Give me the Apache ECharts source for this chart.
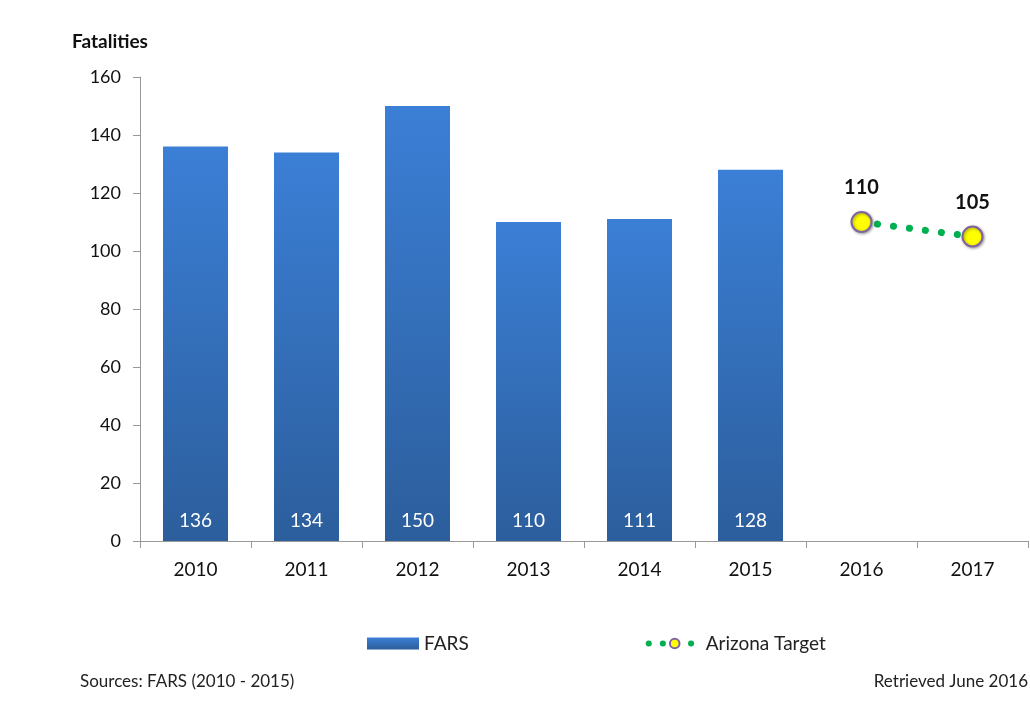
<!DOCTYPE html>
<html>
<head>
<meta charset="utf-8">
<script src="https://cdn.jsdelivr.net/npm/echarts@6/dist/echarts.min.js"></script>
<style>
  html, body { margin: 0; padding: 0; background: #fff; }
  #chart { width: 1030px; height: 723px; }
</style>
</head>
<body>
<div id="chart"></div>
<script>
const years = ['2010', '2011', '2012', '2013', '2014', '2015', '2016', '2017'];
const fars = [136, 134, 150, 110, 111, 128, null, null];
const target = [null, null, null, null, null, null, 110, 105];

const font = 'Lato, "Open Sans", sans-serif';
const chart = echarts.init(document.getElementById('chart'));

chart.setOption({
  animation: false,
  textStyle: { fontFamily: font },
  grid: { left: 140, right: 2, top: 77, bottom: 182 },
  legend: {
    top: 629,
    left: 362,
    itemGap: 177,
    itemWidth: 52,
    itemHeight: 12,
    textStyle: { fontSize: 19, color: '#222', fontFamily: font },
    data: [
      { name: 'FARS', icon: 'rect' },
      { name: 'Arizona Target', lineStyle: { width: 6, type: [0.1, 14], cap: 'round' } }
    ]
  },
  xAxis: {
    type: 'category',
    data: years,
    axisLine: { lineStyle: { color: '#999' } },
    axisTick: { show: true, length: 7, lineStyle: { color: '#999' } },
    axisLabel: { fontSize: 19, color: '#111', margin: 19 }
  },
  yAxis: {
    type: 'value',
    min: 0,
    max: 160,
    interval: 20,
    axisLine: { show: true, lineStyle: { color: '#999' } },
    axisTick: { show: true, length: 7, lineStyle: { color: '#999' } },
    axisLabel: { fontSize: 18, color: '#111', margin: 19 },
    splitLine: { show: false }
  },
  graphic: [
    { type: 'text', left: 72, top: 32, style: { text: 'Fatalities', font: 'bold 19px ' + font, fill: '#111' } },
    { type: 'text', left: 80, top: 673, style: { text: 'Sources: FARS (2010 - 2015)', font: '17px ' + font, fill: '#222' } },
    { type: 'text', right: 2, top: 673, style: { text: 'Retrieved June 2016', font: '17px ' + font, fill: '#222' } }
  ],
  series: [
    {
      name: 'FARS',
      type: 'bar',
      data: fars,
      barWidth: 65,
      itemStyle: {
        color: new echarts.graphic.LinearGradient(0, 0, 0, 1, [
          { offset: 0, color: '#3b7fd6' },
          { offset: 1, color: '#2c5e9c' }
        ])
      },
      label: {
        show: true,
        position: 'insideBottom',
        distance: 11,
        color: '#fff',
        fontSize: 19
      }
    },
    {
      name: 'Arizona Target',
      type: 'line',
      data: target,
      symbol: 'circle',
      symbolSize: 20,
      itemStyle: {
        color: '#ffff00',
        borderColor: '#8064a2',
        borderWidth: 2,
        shadowColor: 'rgba(0,0,0,0.35)',
        shadowBlur: 3,
        shadowOffsetX: 1,
        shadowOffsetY: 1
      },
      lineStyle: {
        color: '#00b050',
        width: 7,
        type: [0.1, 16],
        cap: 'round'
      },
      label: {
        show: true,
        position: 'top',
        distance: 13,
        color: '#111',
        fontWeight: 'bold',
        fontSize: 20
      }
    }
  ]
});
</script>
</body>
</html>
